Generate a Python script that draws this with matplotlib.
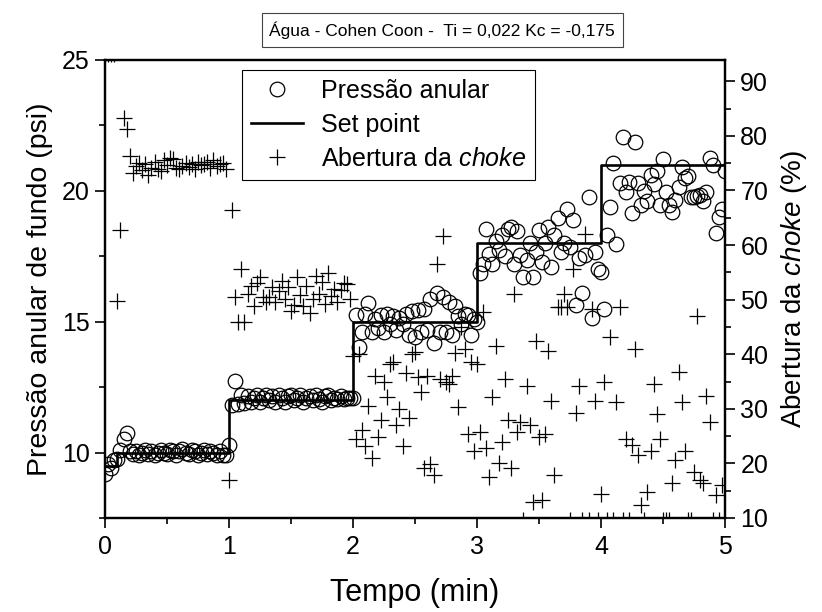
import numpy as np
import matplotlib.pyplot as plt
from matplotlib.lines import Line2D
from matplotlib.ticker import MultipleLocator

plt.rcParams['font.family'] = ['Liberation Sans', 'DejaVu Sans']
plt.rcParams['mathtext.fontset'] = 'custom'
plt.rcParams['mathtext.it'] = 'Liberation Sans:italic'
plt.rcParams['mathtext.rm'] = 'Liberation Sans'

# tempo de amostragem (min): 40 pontos por minuto
tempo = np.arange(201) * 0.025

# pressao anular de fundo (psi), um bloco por minuto
pressao_min0 = [9.2, 9.55, 9.4, 9.7, 9.75, 10.1, 10.5, 10.75, 10.05,
                9.95, 10.05, 9.9, 10.0, 10.1, 9.95, 10.05, 9.9, 10.0, 10.1,
                10.0, 9.95, 10.1, 10.05, 9.9, 10.05, 10.15, 10.0, 9.95, 10.1,
                10.05, 9.9, 10.0, 10.1, 9.95, 10.05, 10.0, 9.9, 10.05, 9.9, 9.9]
pressao_min1 = [10.3, 11.8, 12.75, 11.85, 12.2, 11.9, 12.15, 11.95, 12.1, 12.2,
                11.95, 12.1, 12.2, 12.0, 12.15, 11.95, 12.2, 12.1, 11.95, 12.15,
                12.2, 12.0, 12.1, 12.2, 11.95, 12.1, 12.15, 12.0, 12.2, 12.05,
                11.95, 12.15, 12.2, 12.0, 12.1, 12.05, 12.15, 12.05, 12.1, 12.1]
pressao_min2 = [12.1, 15.25, 14.05, 14.6, 15.3, 15.7, 14.6, 15.1, 14.75, 15.25,
                14.6, 15.3, 14.9, 15.2, 14.7, 15.15, 14.9, 15.3, 14.5, 15.4,
                14.4, 15.45, 14.6, 15.5, 14.7, 15.85, 14.2, 16.1, 14.6, 15.95,
                14.6, 15.75, 14.5, 15.6, 15.2, 14.9, 15.3, 15.25, 14.5, 15.1]
pressao_min3 = [15.0, 16.85, 17.2, 18.55, 17.6, 17.2, 18.1, 17.75, 18.3, 17.5,
                18.55, 18.6, 17.2, 18.45, 17.55, 16.7, 17.35, 18.0, 16.7, 17.65,
                18.5, 17.3, 18.0, 18.6, 17.1, 18.3, 18.95, 17.65, 18.0, 19.3,
                17.85, 18.9, 15.65, 17.45, 16.1, 17.55, 19.75, 15.15, 17.65, 17.0]
pressao_min4 = [16.9, 15.5, 18.3, 19.4, 21.05, 17.95, 20.3, 22.05, 19.95, 20.35,
                19.15, 21.85, 20.3, 19.45, 20.0, 19.6, 20.6, 20.25, 20.75, 19.45,
                21.2, 19.95, 19.45, 19.2, 19.65, 20.15, 20.9, 20.5, 20.55, 19.75,
                19.75, 19.8, 19.85, 19.6, 19.95, 21.25, 21.0, 18.4, 19.0, 19.3,
                20.75]

# abertura da choke (%), um bloco por minuto
choke_min0 = [95, 95, 95, 95, 49.8, 62.7, 83.3, 81.3, 76.3,
              73.2, 74.5, 75.0, 73.8, 74.8, 72.8, 74.2, 75.2, 74.0, 73.5,
              75.5, 74.6, 76.0, 75.8, 74.2, 73.9, 74.5, 75.0, 74.3, 74.8,
              74.0, 75.3, 74.6, 74.9, 75.2, 74.1, 75.6, 74.4, 74.8, 75.0, 73.9]
choke_min1 = [17.0, 66.4, 50.5, 45.9, 55.7, 45.9, 51.1, 52.5, 48.9, 53.0,
              54.2, 50.5, 49.5, 50.5, 52.4, 49.6, 51.5, 53.5, 50.2, 52.4,
              47.9, 49.0, 54.2, 50.8, 48.9, 52.5, 47.5, 50.1, 54.4, 51.0,
              53.3, 49.2, 54.8, 50.7, 52.0, 49.5, 51.8, 53.0, 52.9, 50.1]
choke_min2 = [39.6, 24.4, 40.0, 26.2, 23.1, 30.5, 21.0, 36.0, 24.9, 28.0,
              34.9, 32.1, 38.2, 38.5, 27.1, 30.0, 23.1, 36.5, 28.4, 40.0,
              40.4, 35.8, 33.0, 19.2, 36.0, 19.8, 17.9, 56.6, 35.4, 61.6,
              35.0, 34.5, 36.0, 40.3, 30.3, 45.0, 40.9, 25.3, 38.5, 22.2]
choke_min3 = [38.2, 25.7, 47.8, 22.9, 17.5, 32.1, 41.5, 20.1, 24.0, 35.4,
              28.0, 19.2, 51.1, 25.7, 27.5, 9.7, 34.1, 27.1, 12.9, 42.4,
              24.9, 13.3, 25.3, 40.6, 31.4, 17.9, 48.7, 48.7, 51.1, 48.7,
              9.7, 55.7, 29.3, 34.1, 9.7, 62.1, 9.7, 48.3, 31.4, 9.7]
choke_min4 = [14.4, 35.0, 9.7, 43.1, 9.7, 31.2, 48.7, 9.7, 24.4, 9.7,
              23.4, 40.9, 21.6, 12.4, 9.7, 14.8, 22.2, 34.5, 29.0, 24.4,
              9.7, 9.7, 9.7, 16.4, 20.7, 36.7, 31.2, 22.2, 9.7, 9.7,
              18.5, 47.0, 17.0, 16.4, 32.3, 27.5, 9.7, 14.2, 9.7, 16.0,
              9.7]

# set point (psi)
sp_tempo = [0, 0.1, 1, 2, 3, 4, 5]
sp_valor = [9.5, 10, 12, 15, 18, 21, 21]

pressao = np.array(pressao_min0 + pressao_min1 + pressao_min2 + pressao_min3 + pressao_min4)
choke = np.array(choke_min0 + choke_min1 + choke_min2 + choke_min3 + choke_min4)

fig = plt.figure(figsize=(8.22, 6.12), dpi=100)
ax1 = fig.add_axes([0.1277, 0.1536, 0.7543, 0.7484])
ax2 = ax1.twinx()

ax1.plot(tempo, pressao, 'o', mfc='none', mec='black', ms=10.5, mew=0.9)
ax1.plot(sp_tempo, sp_valor, '-', color='black', lw=1.9, drawstyle='steps-post')
ax2.plot(tempo, choke, '+', color='black', ms=11, mew=0.9)

ax1.set_xlim(0, 5)
ax1.set_ylim(7.5, 25)
ax2.set_ylim(10, 93.9)

ax1.xaxis.set_major_locator(MultipleLocator(1))
ax1.xaxis.set_minor_locator(MultipleLocator(0.5))
ax1.yaxis.set_major_locator(MultipleLocator(5))
ax1.yaxis.set_minor_locator(MultipleLocator(2.5))
ax2.yaxis.set_major_locator(MultipleLocator(10))
ax2.yaxis.set_minor_locator(MultipleLocator(5))

for ax in (ax1, ax2):
    ax.tick_params(which='major', direction='out', length=7, width=1.2, labelsize=18)
    ax.tick_params(which='minor', direction='out', length=4, width=1.2)
    for s in ax.spines.values():
        s.set_linewidth(1.6)
ax1.tick_params(axis='x', pad=5)
ax1.tick_params(axis='y', pad=4)
ax2.tick_params(axis='y', pad=4)

ax1.set_xlabel('Tempo (min)', fontsize=22, labelpad=14)
ax1.set_ylabel('Pressão anular de fundo (psi)', fontsize=20.5, labelpad=6)
ax2.set_ylabel(r'Abertura da $\it{choke}$ (%)', fontsize=20, labelpad=8)

handles = [
    Line2D([], [], ls='none', marker='o', mfc='none', mec='black', ms=10.5, mew=0.9),
    Line2D([], [], color='black', lw=1.9),
    Line2D([], [], ls='none', marker='+', color='black', ms=11, mew=0.9),
]
labels = ['Pressão anular', 'Set point', r'Abertura da $\it{choke}$']
leg = ax2.legend(handles, labels, loc='upper left', bbox_to_anchor=(0.221, 0.978),
                 fontsize=18, frameon=True, fancybox=False, edgecolor='black',
                 framealpha=1, handlelength=2.1, borderpad=0.35, labelspacing=0.4,
                 handletextpad=0.7, borderaxespad=0)
leg.get_frame().set_linewidth(0.8)

fig.text(0.538, 0.951, 'Água - Cohen Coon -  Ti = 0,022 Kc = -0,175', fontsize=12.5,
         ha='center', va='center',
         bbox=dict(boxstyle='square,pad=0.45', fc='white', ec='#444444', lw=0.8))

fig.savefig('out.png', dpi=100)
